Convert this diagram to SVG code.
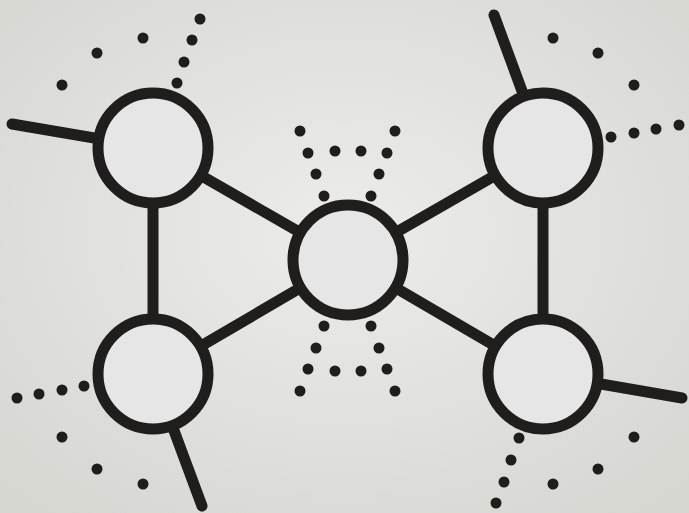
<svg xmlns="http://www.w3.org/2000/svg" width="689" height="513" viewBox="0 0 689 513">
<style>
.edge{stroke:#1f1e1c;stroke-width:11;stroke-linecap:round;fill:none}
.node{fill:#e6e6e6;stroke:#1f1e1c;stroke-width:11}
.dot{fill:#1f1e1c}
</style>
<defs>
<radialGradient id="bg" cx="50%" cy="45%" r="70%">
<stop offset="0" stop-color="#ececea"/>
<stop offset="1" stop-color="#d6d7d1"/>
</radialGradient>
</defs>
<rect width="689" height="513" fill="url(#bg)"/>
<g id="connectors">
<line class="edge" x1="153" y1="148" x2="348" y2="260"/>
<line class="edge" x1="153" y1="374" x2="348" y2="260"/>
<line class="edge" x1="543" y1="148" x2="348" y2="260"/>
<line class="edge" x1="543" y1="374" x2="348" y2="260"/>
<line class="edge" x1="153" y1="148" x2="153" y2="374"/>
<line class="edge" x1="543" y1="148" x2="543" y2="374"/>
<line class="edge" x1="12" y1="124" x2="153" y2="148"/>
<line class="edge" x1="494" y1="15" x2="543" y2="148"/>
<line class="edge" x1="202" y1="506" x2="153" y2="374"/>
<line class="edge" x1="682" y1="398" x2="543" y2="374"/>
</g>
<g id="dots">
<circle class="dot" cx="62" cy="85" r="5.5"/>
<circle class="dot" cx="97" cy="53" r="5.5"/>
<circle class="dot" cx="143" cy="38" r="5.5"/>
<circle class="dot" cx="200" cy="19" r="5.5"/>
<circle class="dot" cx="192" cy="40" r="5.5"/>
<circle class="dot" cx="184" cy="62" r="5.5"/>
<circle class="dot" cx="177" cy="83" r="5.5"/>
<circle class="dot" cx="553" cy="38" r="5.5"/>
<circle class="dot" cx="598" cy="53" r="5.5"/>
<circle class="dot" cx="634" cy="85" r="5.5"/>
<circle class="dot" cx="611" cy="137" r="5.5"/>
<circle class="dot" cx="634" cy="133" r="5.5"/>
<circle class="dot" cx="656" cy="129" r="5.5"/>
<circle class="dot" cx="679" cy="125" r="5.5"/>
<circle class="dot" cx="17" cy="398" r="5.5"/>
<circle class="dot" cx="39" cy="394" r="5.5"/>
<circle class="dot" cx="62" cy="390" r="5.5"/>
<circle class="dot" cx="84" cy="386" r="5.5"/>
<circle class="dot" cx="62" cy="437" r="5.5"/>
<circle class="dot" cx="97" cy="469" r="5.5"/>
<circle class="dot" cx="143" cy="484" r="5.5"/>
<circle class="dot" cx="519" cy="438" r="5.5"/>
<circle class="dot" cx="511" cy="460" r="5.5"/>
<circle class="dot" cx="504" cy="482" r="5.5"/>
<circle class="dot" cx="496" cy="503" r="5.5"/>
<circle class="dot" cx="553" cy="484" r="5.5"/>
<circle class="dot" cx="598" cy="469" r="5.5"/>
<circle class="dot" cx="634" cy="437" r="5.5"/>
<circle class="dot" cx="300" cy="131" r="5.5"/>
<circle class="dot" cx="395" cy="131" r="5.5"/>
<circle class="dot" cx="308" cy="153" r="5.5"/>
<circle class="dot" cx="335" cy="151" r="5.5"/>
<circle class="dot" cx="361" cy="151" r="5.5"/>
<circle class="dot" cx="387" cy="153" r="5.5"/>
<circle class="dot" cx="316" cy="174" r="5.5"/>
<circle class="dot" cx="379" cy="174" r="5.5"/>
<circle class="dot" cx="324" cy="196" r="5.5"/>
<circle class="dot" cx="371" cy="196" r="5.5"/>
<circle class="dot" cx="324" cy="326" r="5.5"/>
<circle class="dot" cx="371" cy="326" r="5.5"/>
<circle class="dot" cx="316" cy="348" r="5.5"/>
<circle class="dot" cx="379" cy="348" r="5.5"/>
<circle class="dot" cx="308" cy="369" r="5.5"/>
<circle class="dot" cx="335" cy="371" r="5.5"/>
<circle class="dot" cx="361" cy="371" r="5.5"/>
<circle class="dot" cx="387" cy="369" r="5.5"/>
<circle class="dot" cx="300" cy="391" r="5.5"/>
<circle class="dot" cx="395" cy="391" r="5.5"/>
</g>
<g id="node-tl"><circle class="node" cx="153" cy="148" r="55"/></g>
<g id="node-tr"><circle class="node" cx="543" cy="148" r="55"/></g>
<g id="node-bl"><circle class="node" cx="153" cy="374" r="55"/></g>
<g id="node-br"><circle class="node" cx="543" cy="374" r="55"/></g>
<g id="node-c"><circle class="node" cx="348" cy="260" r="55"/></g>
</svg>
